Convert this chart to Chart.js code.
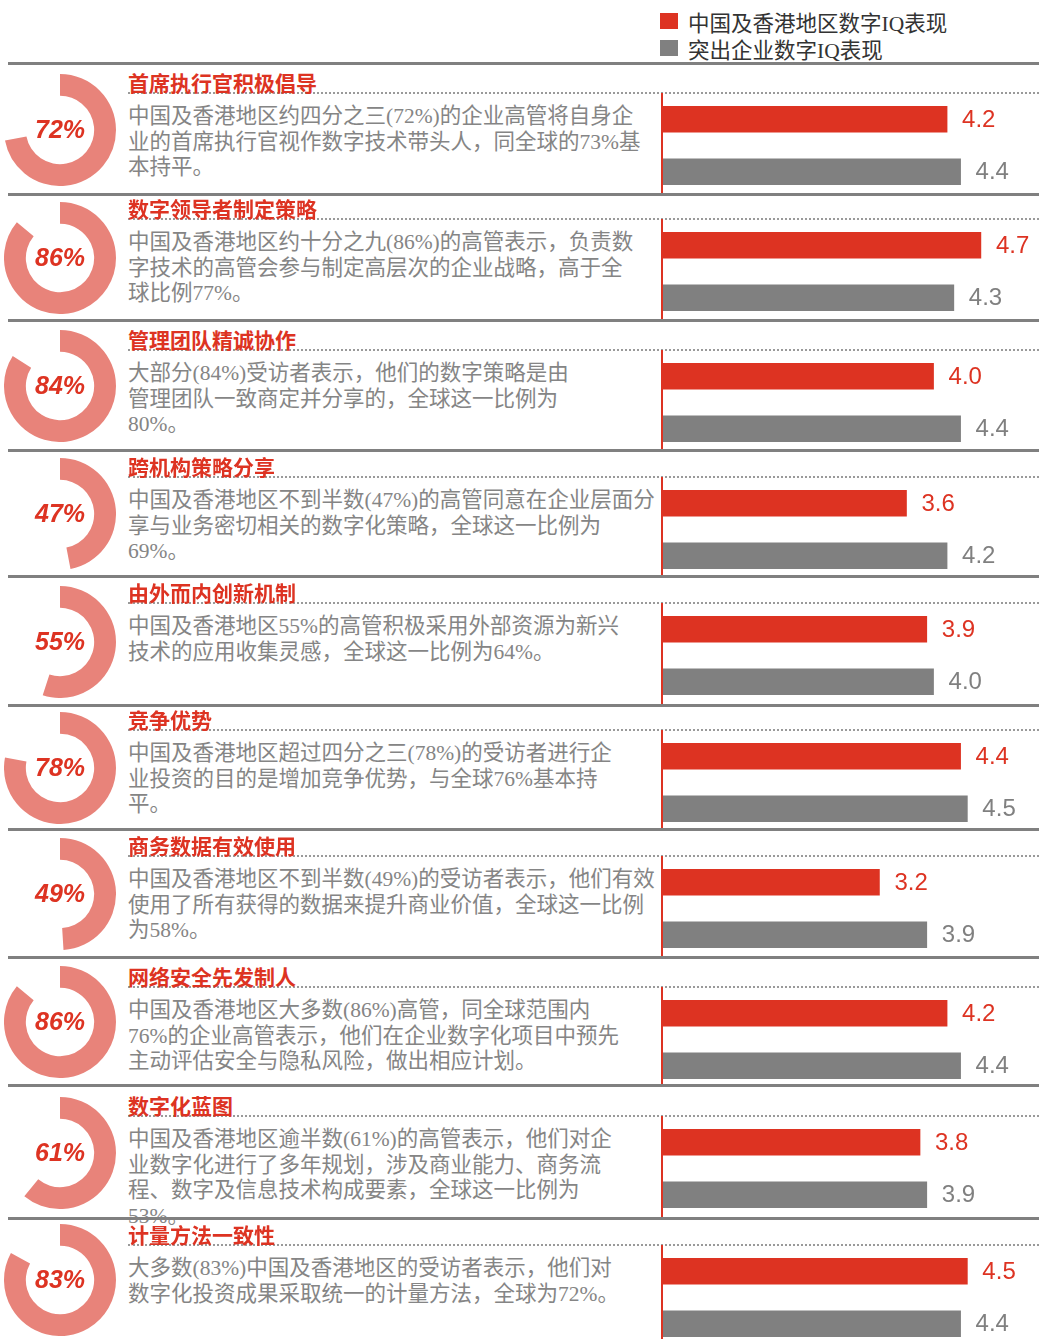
<!DOCTYPE html>
<html lang="zh-CN">
<head>
<meta charset="utf-8">
<title>数字IQ表现</title>
<script src="https://cdn.jsdelivr.net/npm/chart.js@4.4.1/dist/chart.umd.min.js"></script>
<style>
    html, body { margin: 0; padding: 0; background: #fff; }
    #page { position: relative; width: 1039px; height: 1339px; overflow: hidden; background: #fff; }
    .abs { position: absolute; }
    .sep { left: 8px; right: 0; height: 3px; background: #808080; }
    .dots { left: 128px; right: 0; height: 0; border-top: 2px dotted #9a9a9a; }
    .vline { left: 661px; width: 2px; background: #dd3322; }
    .title { left: 128px; font-family: "Noto Sans CJK SC", sans-serif; font-weight: 700; font-size: 21px;
             line-height: 26px; color: #dd3322; white-space: nowrap; }
    .desc { left: 128px; font-family: "Liberation Serif", "Noto Sans CJK SC", serif; font-size: 21.5px;
            line-height: 25.5px; color: #858585; white-space: nowrap; }
    .legend-box { left: 660px; width: 18px; height: 16px; }
    .legend-text { left: 688px; font-family: "Liberation Serif", "Noto Sans CJK SC", serif; font-size: 21.5px;
                   line-height: 26px; color: #333; white-space: nowrap; }
</style>
</head>
<body>
<div id="page"></div>
<script>
// ---- data ----
const titles = ['首席执行官积极倡导', '数字领导者制定策略', '管理团队精诚协作', '跨机构策略分享', '由外而内创新机制',
    '竞争优势', '商务数据有效使用', '网络安全先发制人', '数字化蓝图', '计量方法一致性'];
const descriptions = [
    ['中国及香港地区约四分之三(72%)的企业高管将自身企', '业的首席执行官视作数字技术带头人，同全球的73%基', '本持平。'],
    ['中国及香港地区约十分之九(86%)的高管表示，负责数', '字技术的高管会参与制定高层次的企业战略，高于全', '球比例77%。'],
    ['大部分(84%)受访者表示，他们的数字策略是由', '管理团队一致商定并分享的，全球这一比例为', '80%。'],
    ['中国及香港地区不到半数(47%)的高管同意在企业层面分', '享与业务密切相关的数字化策略，全球这一比例为', '69%。'],
    ['中国及香港地区55%的高管积极采用外部资源为新兴', '技术的应用收集灵感，全球这一比例为64%。'],
    ['中国及香港地区超过四分之三(78%)的受访者进行企', '业投资的目的是增加竞争优势，与全球76%基本持', '平。'],
    ['中国及香港地区不到半数(49%)的受访者表示，他们有效', '使用了所有获得的数据来提升商业价值，全球这一比例', '为58%。'],
    ['中国及香港地区大多数(86%)高管，同全球范围内', '76%的企业高管表示，他们在企业数字化项目中预先', '主动评估安全与隐私风险，做出相应计划。'],
    ['中国及香港地区逾半数(61%)的高管表示，他们对企', '业数字化进行了多年规划，涉及商业能力、商务流', '程、数字及信息技术构成要素，全球这一比例为', '53%。'],
    ['大多数(83%)中国及香港地区的受访者表示，他们对', '数字化投资成果采取统一的计量方法，全球为72%。'],
];
const percentages = [72, 86, 84, 47, 55, 78, 49, 86, 61, 83];
const regionScores = [4.2, 4.7, 4.0, 3.6, 3.9, 4.4, 3.2, 4.2, 3.8, 4.5];
const leaderScores = [4.4, 4.3, 4.4, 4.2, 4.0, 4.5, 3.9, 4.4, 3.9, 4.4];
const seriesNames = ['中国及香港地区数字IQ表现', '突出企业数字IQ表现'];

// ---- layout ----
const rowTops = [63, 194, 320, 450, 576, 705, 829, 957, 1085, 1218];
const dotLines = [93, 219, 350, 477, 603, 730, 856, 987, 1116, 1245];
const PAGE_H = 1339;
const RED = '#dd3322';
const GRAY = '#808080';
const RING = '#e8837a';

(function () {
    const page = document.getElementById('page');

    function el(cls, css, html) {
        const d = document.createElement('div');
        d.className = 'abs ' + cls;
        Object.assign(d.style, css || {});
        if (html != null) d.innerHTML = html;
        page.appendChild(d);
        return d;
    }

    function canvasAt(left, top, w, h) {
        const c = document.createElement('canvas');
        c.width = w;
        c.height = h;
        c.style.position = 'absolute';
        c.style.left = left + 'px';
        c.style.top = top + 'px';
        c.style.width = w + 'px';
        c.style.height = h + 'px';
        page.appendChild(c);
        return c;
    }

    // legend
    el('legend-box', { top: '13px', background: RED });
    el('legend-text', { top: '11px' }, seriesNames[0]);
    el('legend-box', { top: '40px', background: GRAY });
    el('legend-text', { top: '38px' }, seriesNames[1]);

    const centerText = {
        id: 'centerText',
        afterDraw(chart) {
            const meta = chart.getDatasetMeta(0).data[0];
            if (!meta) return;
            const ctx = chart.ctx;
            ctx.save();
            ctx.font = 'italic bold 25px "Liberation Sans", Arial, sans-serif';
            ctx.fillStyle = RED;
            ctx.textAlign = 'center';
            ctx.textBaseline = 'middle';
            ctx.fillText(chart.data.datasets[0].data[0] + '%', meta.x, meta.y + 1);
            ctx.restore();
        },
    };

    const valueLabels = {
        id: 'valueLabels',
        afterDatasetsDraw(chart) {
            const ds = chart.data.datasets[0];
            const ctx = chart.ctx;
            ctx.save();
            ctx.font = '24px "Liberation Sans", Arial, sans-serif';
            ctx.textBaseline = 'middle';
            ctx.textAlign = 'left';
            chart.getDatasetMeta(0).data.forEach((bar, i) => {
                ctx.fillStyle = i === 0 ? RED : GRAY;
                ctx.fillText(Number(ds.data[i]).toFixed(1), bar.x + 15, bar.y + 1);
            });
            ctx.restore();
        },
    };

    titles.forEach((title, i) => {
        const top = rowTops[i];
        const next = i + 1 < rowTops.length ? rowTops[i + 1] : PAGE_H;
        const d = dotLines[i];

        el('sep', { top: (top - 1) + 'px' });
        el('dots', { top: (d - 1) + 'px' });
        el('title', { top: (d - 24) + 'px' }, title);
        el('desc', { top: (d + 11) + 'px' }, descriptions[i].join('<br>'));
        el('vline', { top: d + 'px', height: (next - d) + 'px' });

        // ring
        const cy = Math.round((top + next) / 2) + 1;
        const ring = canvasAt(4, cy - 56, 112, 112);
        new Chart(ring.getContext('2d'), {
            type: 'doughnut',
            data: {
                labels: ['yes', 'rest'],
                datasets: [{
                    data: [percentages[i], 100 - percentages[i]],
                    backgroundColor: [RING, 'rgba(0,0,0,0)'],
                    borderWidth: 0,
                }],
            },
            options: {
                responsive: false,
                animation: false,
                cutout: '61%',
                rotation: 0,
                events: [],
                plugins: { legend: { display: false }, tooltip: { enabled: false } },
            },
            plugins: [centerText],
        });

        // bars
        const bars = canvasAt(663, d, 372, 105);
        new Chart(bars.getContext('2d'), {
            type: 'bar',
            data: {
                labels: seriesNames,
                datasets: [{
                    data: [regionScores[i], leaderScores[i]],
                    backgroundColor: [RED, GRAY],
                    borderWidth: 0,
                    barThickness: 26,
                }],
            },
            options: {
                indexAxis: 'y',
                responsive: false,
                animation: false,
                events: [],
                layout: { padding: 0 },
                plugins: { legend: { display: false }, tooltip: { enabled: false } },
                scales: {
                    x: { display: false, min: 0, max: 5.5 },
                    y: { display: false },
                },
            },
            plugins: [valueLabels],
        });
    });
})();
</script>
</body>
</html>
